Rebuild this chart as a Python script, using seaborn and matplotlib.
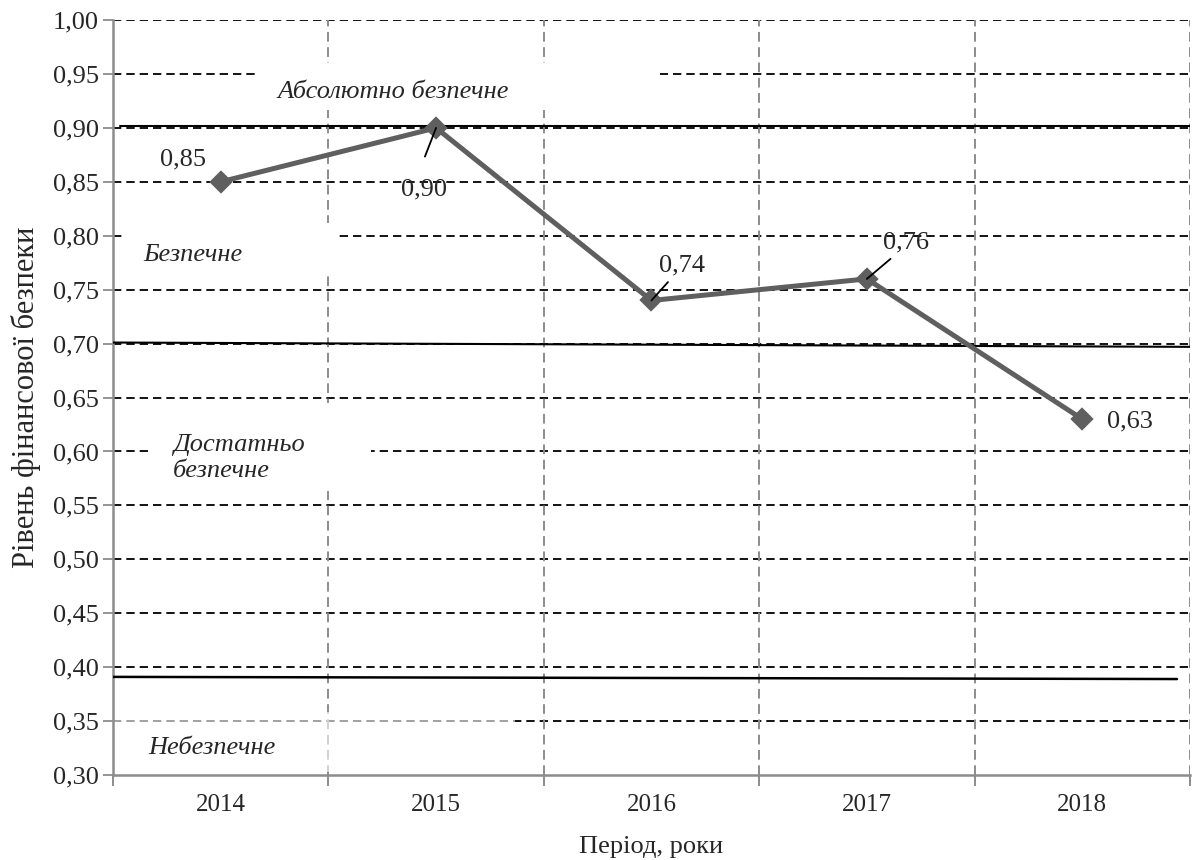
import matplotlib
matplotlib.use("Agg")
import matplotlib.pyplot as plt
from matplotlib.patches import Rectangle
from matplotlib.ticker import FixedLocator
import seaborn as sns
import pandas as pd

# Data
years = ["2014", "2015", "2016", "2017", "2018"]
levels = [0.85, 0.90, 0.74, 0.76, 0.63]
level_labels = ["0,85", "0,90", "0,74", "0,76", "0,63"]

y_ticks = [0.30, 0.35, 0.40, 0.45, 0.50, 0.55, 0.60, 0.65, 0.70, 0.75,
           0.80, 0.85, 0.90, 0.95, 1.00]
y_tick_labels = ["0,30", "0,35", "0,40", "0,45", "0,50", "0,55", "0,60", "0,65",
                 "0,70", "0,75", "0,80", "0,85", "0,90", "0,95", "1,00"]

zone_names = ["Абсолютно безпечне", "Безпечне", "Достатньо\nбезпечне", "Небезпечне"]

df = pd.DataFrame({"year": years, "level": levels})

sns.set_theme(style="white")
plt.rcParams["font.family"] = ["Liberation Serif", "DejaVu Serif"]
plt.rcParams["lines.scale_dashes"] = False

FS = 19

fig = plt.figure(figsize=(11.94, 8.6), dpi=100)
ax = fig.add_axes([0.0946, 0.0988, 0.902, 0.8779])

line_color = "#5f5f5f"
sns.pointplot(data=df, x="year", y="level", ax=ax, color=line_color,
              markers="D", linestyle="-", markersize=9, linewidth=3.6,
              errorbar=None, zorder=4)

ax.set_xlim(-0.5, 4.5)
ax.set_ylim(0.30, 1.00)

# Horizontal grid
ax.yaxis.set_major_locator(FixedLocator(y_ticks))
ax.set_yticklabels(y_tick_labels, fontsize=FS)
for yv in y_ticks[1:]:
    ax.axhline(yv, color="black", lw=1.3, linestyle=(0, (6, 3.6)), zorder=0.5)

# Vertical grid at category boundaries
bounds = [0.5, 1.5, 2.5, 3.5, 4.5]
for xv in bounds:
    ax.axvline(xv, color="#8c8c8c", lw=1.4, linestyle=(0, (7, 4)), zorder=0.5)
ax.xaxis.set_minor_locator(FixedLocator([-0.5] + bounds))
ax.tick_params(axis="x", which="major", length=0, labelsize=18, pad=14)
ax.tick_params(axis="x", which="minor", length=8, width=1.4, color="#8c8c8c",
               direction="out", bottom=True)
ax.tick_params(axis="y", which="major", length=7, width=1.3, color="#8c8c8c",
               direction="out", left=True, pad=3)

for side in ["top", "right"]:
    ax.spines[side].set_visible(False)
for side in ["left", "bottom"]:
    ax.spines[side].set_color("#8c8c8c")
    ax.spines[side].set_linewidth(1.8)

# White backdrops behind the zone names
boxes = [(0.159, 0.917, 1.88, 0.043),
         (-0.454, 0.765, 1.0, 0.047),
         (-0.328, 0.563, 1.026, 0.082),
         (-0.5, 0.303, 1.866, 0.055)]
for i, (bx, by, bw, bh) in enumerate(boxes):
    alpha = 0.6 if i == 3 else 1.0
    ax.add_patch(Rectangle((bx, by), bw, bh, facecolor="white", alpha=alpha,
                           edgecolor="none", zorder=1))

# Zone thresholds
ax.plot([-0.467, 4.5], [0.902, 0.902], color="black", lw=1.5, zorder=3)
ax.plot([-0.5, 4.5], [0.701, 0.697], color="black", lw=1.5, zorder=3)
ax.plot([-0.5, 4.44], [0.391, 0.389], color="black", lw=1.8, zorder=3)

# Zone names
ax.text(0.80, 0.933, zone_names[0], fontsize=FS, style="italic",
        ha="center", va="center", zorder=2)
ax.text(-0.13, 0.782, zone_names[1], fontsize=FS, style="italic",
        ha="center", va="center", zorder=2)
ax.text(-0.221, 0.594, zone_names[2], fontsize=FS, style="italic",
        ha="left", va="center", linespacing=1.2, zorder=2)
ax.text(-0.04, 0.325, zone_names[3], fontsize=FS, style="italic",
        ha="center", va="center", zorder=2)

# Value labels
offsets = [(-27, 16), (-9, -44), (22, 25), (28, 26), (34, -2)]
leaders = [False, True, True, True, False]
relpos = [None, (0.35, 1.0), (0.3, 0.0), (0.3, 0.0), None]
shrink = [0, 14, 2, 2, 0]
for i, (lab, val) in enumerate(zip(level_labels, levels)):
    kw = {}
    if leaders[i]:
        kw["arrowprops"] = dict(arrowstyle="-", color="black", lw=1.3,
                                relpos=relpos[i], shrinkA=shrink[i], shrinkB=0)
    ax.annotate(lab, xy=(i, val), xytext=offsets[i], textcoords="offset points",
                fontsize=FS, ha="center", va="center", zorder=5, **kw)

ax.set_xlabel("Період, роки", fontsize=FS, labelpad=14)
ax.set_ylabel("Рівень фінансової безпеки", fontsize=22, labelpad=9)

fig.savefig("out.png", dpi=100)
